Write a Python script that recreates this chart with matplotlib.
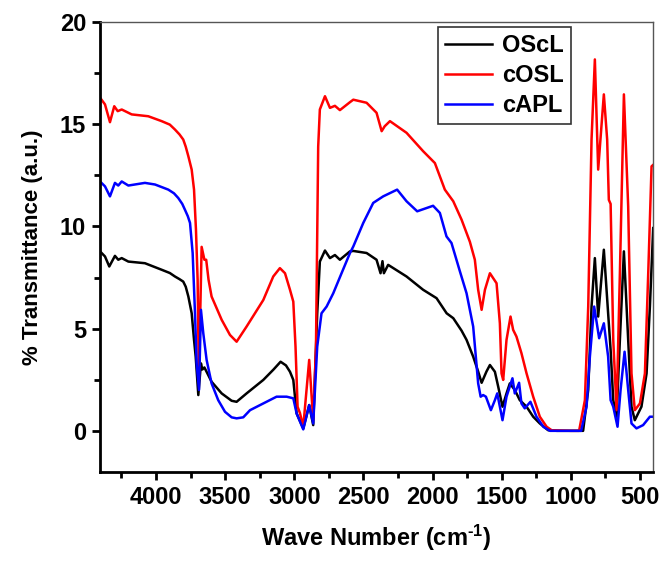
import matplotlib
matplotlib.use("Agg")
import matplotlib.pyplot as plt
from matplotlib.ticker import MultipleLocator

plt.rcParams['font.family'] = ['Liberation Sans', 'DejaVu Sans']
plt.rcParams['font.weight'] = 'bold'
plt.rcParams['mathtext.fontset'] = 'custom'
plt.rcParams['mathtext.rm'] = 'Liberation Sans:bold'
plt.rcParams['mathtext.bf'] = 'Liberation Sans:bold'
plt.rcParams['mathtext.default'] = 'bf'

series_names = ["OScL", "cOSL", "cAPL"]
series_colors = ["black", "red", "blue"]

wn_oscl = [4405, 4369, 4338, 4297, 4273, 4248, 4200, 4080, 3959, 3900, 3863, 3830, 3803, 3785, 3766, 3742, 3725, 3713,
           3694, 3675, 3665, 3650, 3598, 3525, 3453, 3417, 3345, 3224, 3150, 3099, 3060, 3031, 3007, 2983, 2935,
           2892, 2863, 2834, 2815, 2778, 2742, 2706, 2670, 2597, 2573, 2477, 2405, 2376, 2362, 2352,
           2321, 2188, 2068, 1971, 1898, 1850, 1790, 1754, 1706, 1670, 1645, 1610, 1585, 1549, 1525, 1494, 1465,
           1441, 1405, 1369, 1320, 1272, 1224, 1164, 1100, 1000, 911, 874, 850, 826, 802, 761, 730,
           712, 693, 669, 645, 616, 585, 561, 537, 489, 452, 428, 404]
t_oscl = [8.78, 8.53, 8.04, 8.56, 8.37, 8.45, 8.28, 8.2, 7.88, 7.72, 7.55, 7.42, 7.3, 7.05, 6.57, 5.75, 4.45, 3.63,
          1.75, 3.3, 3.0, 3.1, 2.4, 1.83, 1.47, 1.42, 1.83, 2.49, 3.0, 3.38, 3.2, 2.89, 2.49, 0.85, 0.12,
          1.26, 0.28, 5.75, 8.28, 8.82, 8.45, 8.6, 8.37, 8.78, 8.8, 8.7, 8.37, 7.71, 8.3, 7.71,
          8.12, 7.55, 6.9, 6.49, 5.75, 5.51, 4.9, 4.45, 3.63, 2.9, 2.35, 2.9, 3.22, 2.89, 2.16, 1.18, 1.83,
          2.32, 2.0, 1.5, 1.18, 0.69, 0.36, 0.03, 0.0, 0.0, 0.0, 2.0, 6.08, 8.45, 5.59, 8.86, 5.75,
          3.96, 1.5, 0.69, 4.45, 8.78, 4.45, 1.18, 0.52, 1.18, 2.81, 6.08, 9.92]

wn_cosl = [4405, 4369, 4333, 4302, 4277, 4248, 4176, 4056, 3959, 3900, 3863, 3830, 3803, 3785, 3766, 3742, 3725, 3711,
           3699, 3690, 3670, 3650, 3637, 3620, 3598, 3525, 3465, 3417, 3345, 3224, 3152, 3104, 3067,
           3031, 3007, 2991, 2976, 2959, 2935, 2892, 2863, 2843, 2827, 2815, 2778, 2742, 2706, 2670,
           2597, 2573, 2477, 2405, 2368, 2346, 2308, 2188, 2068, 1983, 1911, 1850, 1790, 1730, 1694,
           1670, 1645, 1621, 1585, 1537, 1513, 1501, 1489, 1465, 1436, 1417, 1393, 1357, 1320, 1272,
           1224, 1175, 1139, 1000, 940, 898, 874, 850, 826, 802, 761, 737, 725, 712, 693, 669, 645,
           616, 585, 561, 537, 500, 464, 440, 416, 406]
t_cosl = [16.3, 15.97, 15.1, 15.88, 15.64, 15.72, 15.48, 15.39, 15.15, 14.98, 14.74, 14.5, 14.25, 13.9, 13.43, 12.78, 11.8, 9.84,
          7.39, 2.6, 9.0, 8.37, 8.37, 7.39, 6.57, 5.43, 4.69, 4.36, 5.1, 6.4, 7.55, 7.96, 7.71,
          6.9, 6.32, 4.12, 1.18, 0.87, 0.2, 3.47, 0.52, 4.12, 13.9, 15.72, 16.37, 15.8, 15.9, 15.69,
          16.08, 16.2, 16.05, 15.56, 14.66, 14.9, 15.15, 14.58, 13.68, 13.1, 11.8, 11.23, 10.33, 9.25, 8.37,
          6.9, 5.92, 6.9, 7.71, 7.22, 5.26, 2.81, 2.49, 4.45, 5.59, 4.94, 4.61, 3.8, 2.81, 1.67,
          0.69, 0.2, 0.03, 0.0, 0.0, 1.5, 6.08, 14.25, 18.17, 12.78, 16.46, 14.25, 11.3, 11.1, 4.45, 1.01, 7.71,
          16.46, 10.98, 2.81, 1.01, 1.34, 2.81, 7.71, 12.94, 13.0]

wn_capl = [4405, 4369, 4333, 4297, 4273, 4248, 4200, 4080, 4007, 3911, 3870, 3839, 3810, 3791, 3770, 3754, 3735, 3718,
           3706, 3689, 3675, 3658, 3634, 3598, 3550, 3501, 3453, 3417, 3369, 3320, 3224, 3128, 3055,
           3007, 2983, 2935, 2892, 2863, 2834, 2803, 2766, 2718, 2658, 2597, 2573, 2501, 2429, 2357,
           2256, 2188, 2111, 1996, 1947, 1899, 1863, 1802, 1754, 1706, 1670, 1652, 1634, 1614, 1578,
           1549, 1532, 1513, 1494, 1465, 1422, 1405, 1374, 1357, 1333, 1292, 1248, 1199, 1150, 1000,
           925, 886, 862, 831, 795, 761, 730, 712, 693, 662, 640, 611, 585, 561, 525, 477, 428, 404]
t_capl = [12.2, 11.96, 11.47, 12.13, 12.0, 12.2, 12.0, 12.13, 12.05, 11.8, 11.62, 11.39, 11.1, 10.82, 10.5, 10.17, 8.7, 5.75,
          3.3, 2.0, 5.92, 4.77, 3.47, 2.32, 1.5, 0.93, 0.66, 0.61, 0.66, 1.01, 1.34, 1.67, 1.67,
          1.59, 0.85, 0.07, 1.26, 0.36, 4.12, 5.75, 6.08, 6.73, 7.71, 8.7, 9.02, 10.17, 11.15, 11.47,
          11.8, 11.23, 10.74, 11.01, 10.66, 9.51, 9.19, 7.8, 6.73, 5.1, 2.32, 1.67, 1.75, 1.67, 1.01,
          1.5, 1.83, 1.18, 0.52, 1.67, 2.57, 1.83, 2.35, 1.34, 1.1, 1.42, 0.69, 0.2, 0.0, 0.0,
          0.0, 1.18, 3.63, 6.08, 4.53, 5.26, 3.63, 1.5, 1.18, 0.2, 2.0, 3.87, 2.0, 0.36, 0.12, 0.28, 0.69, 0.69]

x_label = r"Wave Number (cm$^{\text{-1}}$)"
y_label = "% Transmittance (a.u.)"

fig = plt.figure(figsize=(6.61, 5.66), dpi=100)
ax = fig.add_axes([0.1513, 0.1666, 0.8367, 0.7945])

for wn, t, name, c in zip([wn_oscl, wn_cosl, wn_capl], [t_oscl, t_cosl, t_capl],
                          series_names, series_colors):
    ax.plot(wn, t, color=c, lw=1.8, label=name, solid_joinstyle='round')

ax.set_xlim(4405, 405)
ax.set_ylim(-2, 20)
ax.xaxis.set_major_locator(MultipleLocator(500))
ax.xaxis.set_minor_locator(MultipleLocator(250))
ax.yaxis.set_major_locator(MultipleLocator(5))
ax.yaxis.set_minor_locator(MultipleLocator(2.5))

for side in ['left', 'bottom']:
    ax.spines[side].set_linewidth(2)
    ax.spines[side].set_color('black')
for side in ['top', 'right']:
    ax.spines[side].set_linewidth(1)
    ax.spines[side].set_color('#555555')

ax.tick_params(which='major', direction='out', length=6, width=2, labelsize=17, pad=4)
ax.tick_params(which='minor', direction='out', length=4, width=2)
for lab in ax.get_xticklabels() + ax.get_yticklabels():
    lab.set_fontweight('bold')

ax.set_xlabel(x_label, fontsize=17, fontweight='bold', labelpad=10)
ax.set_ylabel(y_label, fontsize=16, fontweight='bold', labelpad=12)

leg = ax.legend(loc='upper left', bbox_to_anchor=(0.611, 0.989), borderaxespad=0,
                fontsize=17, handlelength=2.0, labelspacing=0.3, handletextpad=0.4,
                fancybox=False, framealpha=1, borderpad=0.3)
leg.get_frame().set_edgecolor('#333333')
leg.get_frame().set_linewidth(1.2)
for t in leg.get_texts():
    t.set_fontweight('bold')

fig.savefig("out.png", dpi=100)
